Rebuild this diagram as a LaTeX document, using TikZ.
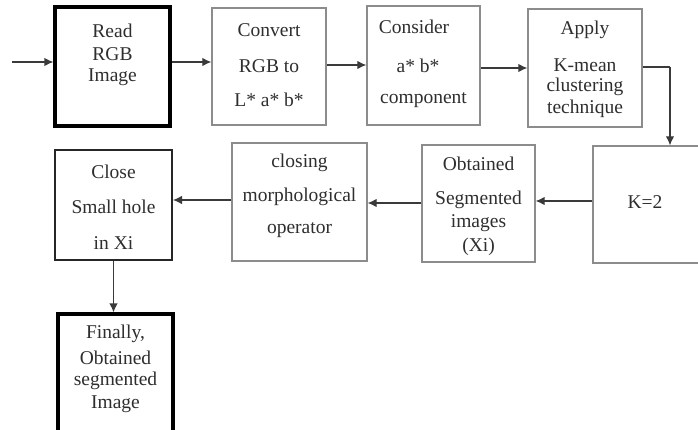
\documentclass[tikz,border=0pt]{standalone}
\usepackage{fontspec}
\setmainfont{Liberation Serif}
\usetikzlibrary{arrows.meta}
\definecolor{boxgray}{HTML}{8C8C8C}
\definecolor{txtgray}{HTML}{2E2E2E}
\definecolor{arrgray}{HTML}{3A3A3A}
\tikzset{
  boxthin/.style={draw=boxgray, line width=1.3pt, rectangle, inner sep=0pt},
  boxthick/.style={draw=black, line width=3.2pt, rectangle, inner sep=0pt},
  boxmid/.style={draw=black!85, line width=2pt, rectangle, inner sep=0pt},
  txt/.style={inner sep=0pt, text=txtgray, font=\fontsize{19.5}{22}\selectfont},
  arr/.style={draw=arrgray, line width=1.2pt, -{Latex[length=9pt,width=8.5pt]}},
  ln/.style={draw=arrgray, line width=1.2pt}
}
\begin{document}
\begin{tikzpicture}[x=1pt,y=-1pt]
\useasboundingbox (0,0) rectangle (698,430);
\clip (0,0) rectangle (698,430);
\fill[white] (0,0) rectangle (698,430);
% boxes
\node[boxthick, minimum width=115pt, minimum height=119pt] (b1) at (112.5,66.5) {};
\node[boxthin, minimum width=114pt, minimum height=117pt] (b2) at (269,66.5) {};
\node[boxthin, minimum width=113pt, minimum height=119pt] (b3) at (423.5,65.5) {};
\node[boxthin, minimum width=114pt, minimum height=118pt] (b4) at (585,68) {};
\node[boxthin, minimum width=137pt, minimum height=117pt] (k) at (661.5,204.5) {};
\node[boxthin, minimum width=113pt, minimum height=117pt] (obt) at (478.5,203.5) {};
\node[boxthin, minimum width=135pt, minimum height=118pt] (clo) at (299.5,202) {};
\node[boxmid, minimum width=117pt, minimum height=110pt] (cls) at (113.5,205) {};
\node[boxthick, minimum width=115pt, minimum height=146pt] (fin) at (115.5,387) {};
% texts
\node[txt] (t1a) at (112.5,31) {Read};
\node[txt] (t1b) at (112.5,54) {RGB};
\node[txt] (t1c) at (112.5,77) {Image};
\node[txt] (t2a) at (269,30) {Convert};
\node[txt] (t2b) at (269,66) {RGB to};
\node[txt] (t2c) at (269,100) {L* a* b*};
\node[txt] (t3a) at (414,27) {Consider};
\node[txt] (t3b) at (418,66) {a* b*};
\node[txt] (t3c) at (423.5,100) {component};
\node[txt] (t4a) at (585,30) {Apply};
\node[txt] (t4b) at (585,65) {K-mean};
\node[txt] (t4c) at (585,87) {clustering};
\node[txt] (t4d) at (585,109) {technique};
\node[txt] (tk) at (645,202) {K=2};
\node[txt] (toa) at (478.5,164) {Obtained};
\node[txt] (tob) at (478.5,200) {Segmented};
\node[txt] (toc) at (478.5,223) {images};
\node[txt] (tod) at (478.5,247) {(Xi)};
\node[txt] (tca) at (299.5,163) {closing};
\node[txt] (tcb) at (299.5,197) {morphological};
\node[txt] (tcc) at (299.5,230) {operator};
\node[txt] (tsa) at (113.5,172) {Close};
\node[txt] (tsb) at (113.5,207) {Small hole};
\node[txt] (tsc) at (113.5,243) {in Xi};
\node[txt] (tfa) at (115.5,334) {Finally,};
\node[txt] (tfb) at (115.5,358) {Obtained};
\node[txt] (tfc) at (115.5,381) {segmented};
\node[txt] (tfd) at (115.5,404) {Image};
% connector levels
\coordinate (in) at (12,62);
\coordinate (y12) at (0,62);
\coordinate (y23) at (0,65);
\coordinate (y34) at (0,68);
\coordinate (turn) at (670,67);
\coordinate (yko) at (0,201);
\coordinate (yoc) at (0,203);
\coordinate (ycs) at (0,200);
% connectors
\draw[arr] (in) -- (b1.west |- in);
\draw[arr] (b1.east |- y12) -- (b2.west |- y12);
\draw[arr] (b2.east |- y23) -- (b3.west |- y23);
\draw[arr] (b3.east |- y34) -- (b4.west |- y34);
\draw[ln] (b4.east |- turn) -- (turn);
\draw[arr] (turn) -- (turn |- k.north);
\draw[arr] (k.west |- yko) -- (obt.east |- yko);
\draw[arr] (obt.west |- yoc) -- (clo.east |- yoc);
\draw[arr] (clo.west |- ycs) -- (cls.east |- ycs);
\draw[arr] (cls.south) -- (cls.south |- fin.north);
\end{tikzpicture}
\end{document}
